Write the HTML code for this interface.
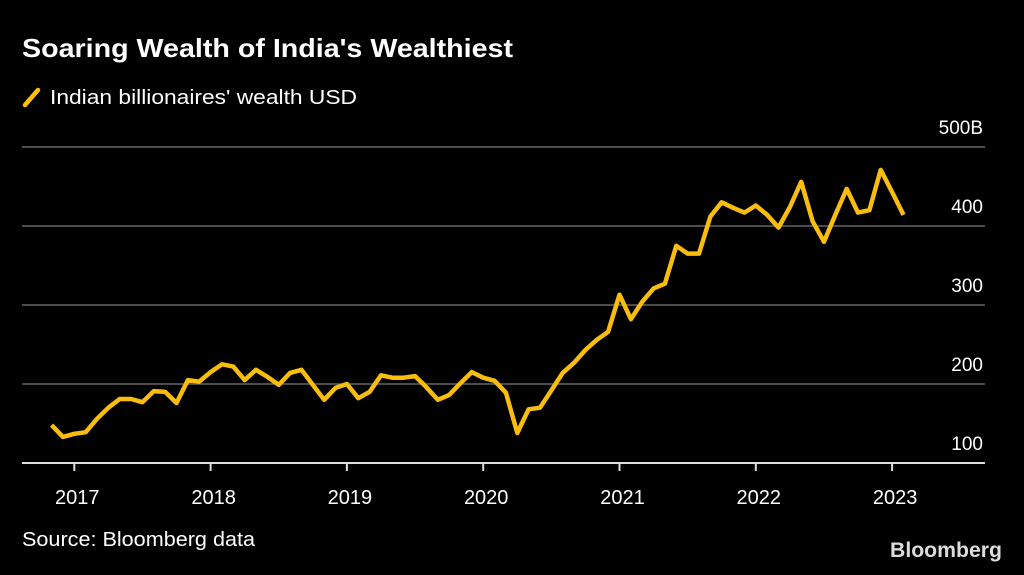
<!DOCTYPE html>
<html><head><meta charset="utf-8"><style>
body{margin:0;background:#000;width:1024px;height:570px;overflow:hidden;font-family:"Liberation Sans",Arial,sans-serif;color:#fff}
</style></head><body>
<svg width="1024" height="570" xmlns="http://www.w3.org/2000/svg" id="chart">
<rect width="1024" height="570" fill="#000"/>
<text x="22" y="57" font-size="26" font-weight="bold" fill="#fff" textLength="491" lengthAdjust="spacingAndGlyphs">Soaring Wealth of India's Wealthiest</text>
<g>
<line x1="25" y1="105" x2="38" y2="90" stroke="#ffc000" stroke-width="4.5" stroke-linecap="round"/>
<text x="50" y="104" font-size="20" fill="#fff" textLength="307" lengthAdjust="spacingAndGlyphs">Indian billionaires' wealth USD</text>
</g>
<g id="grid"></g><g id="axes"></g>
<polyline id="line" fill="none" stroke="#f8bd0d" stroke-width="4.5" stroke-linejoin="round"/>
<text x="22" y="546" font-size="20" fill="#fff" textLength="233" lengthAdjust="spacingAndGlyphs">Source: Bloomberg data</text>
<text x="1002" y="557" font-size="21" font-weight="bold" fill="#ddd" text-anchor="end" textLength="112" lengthAdjust="spacingAndGlyphs">Bloomberg</text>
</svg>
<script>
const yTicks=[100,200,300,400,500];
const yTickLabels=["100","200","300","400","500B"];
const years=["2017","2018","2019","2020","2021","2022","2023"];
const startMonth=[2016,10];
const values=[148,133,137,139,156,170,181,181,177,191,190,176,205,203,215,225,222,205,218,209,199,214,218,199,180,195,200,182,190,211,208,208,210,196,180,186,201,215,208,204,189,138,168,170,192,214,227,243,256,266,313,282,304,321,327,375,365,365,412,430,423,417,426,414,398,424,456,406,380,414,447,417,420,471,443,414];
const svgNS="http://www.w3.org/2000/svg";
const x0=74.3,perYear=136.3,left=22,right=985;
function xScale(y,m){return x0+(y-2017+m/12)*perYear;}
function yScale(v){return 463-(v-100)*0.79;}
const grid=document.getElementById('grid'),axes=document.getElementById('axes');
yTicks.forEach((t,i)=>{
 if(i>0){const l=document.createElementNS(svgNS,'line');
 l.setAttribute('x1',left);l.setAttribute('x2',right);l.setAttribute('y1',yScale(t));l.setAttribute('y2',yScale(t));
 l.setAttribute('stroke','#666');l.setAttribute('stroke-width','1.5');
 
 
 grid.appendChild(l);}
 const tx=document.createElementNS(svgNS,'text');
 tx.setAttribute('x',983);tx.setAttribute('y',yScale(t)-13);tx.setAttribute('text-anchor','end');
 tx.setAttribute('font-size','19');tx.setAttribute('fill','#fff');tx.textContent=yTickLabels[i];
 
 
 axes.appendChild(tx);
});
const base=document.createElementNS(svgNS,'line');
base.setAttribute('x1',left);base.setAttribute('x2',right);base.setAttribute('y1',yScale(100));base.setAttribute('y2',yScale(100));
base.setAttribute('stroke','#ddd');base.setAttribute('stroke-width','2');


axes.appendChild(base);
years.forEach(y=>{
 const x=xScale(+y,0);
 const t=document.createElementNS(svgNS,'line');
 t.setAttribute('x1',x);t.setAttribute('x2',x);t.setAttribute('y1',yScale(100));t.setAttribute('y2',yScale(100)+8);
 t.setAttribute('stroke','#ddd');t.setAttribute('stroke-width','2');
 
 
 axes.appendChild(t);
 const tx=document.createElementNS(svgNS,'text');
 tx.setAttribute('x',x+3);tx.setAttribute('y',504);tx.setAttribute('text-anchor','middle');
 tx.setAttribute('font-size','20');tx.setAttribute('fill','#fff');tx.textContent=y;
 
 
 axes.appendChild(tx);
});
const pts=values.map((v,i)=>{const m=startMonth[1]+i;return xScale(startMonth[0]+Math.floor(m/12),m%12).toFixed(1)+','+yScale(v).toFixed(1);});
document.getElementById('line').setAttribute('points',pts.join(' '));
</script>
</body></html>
